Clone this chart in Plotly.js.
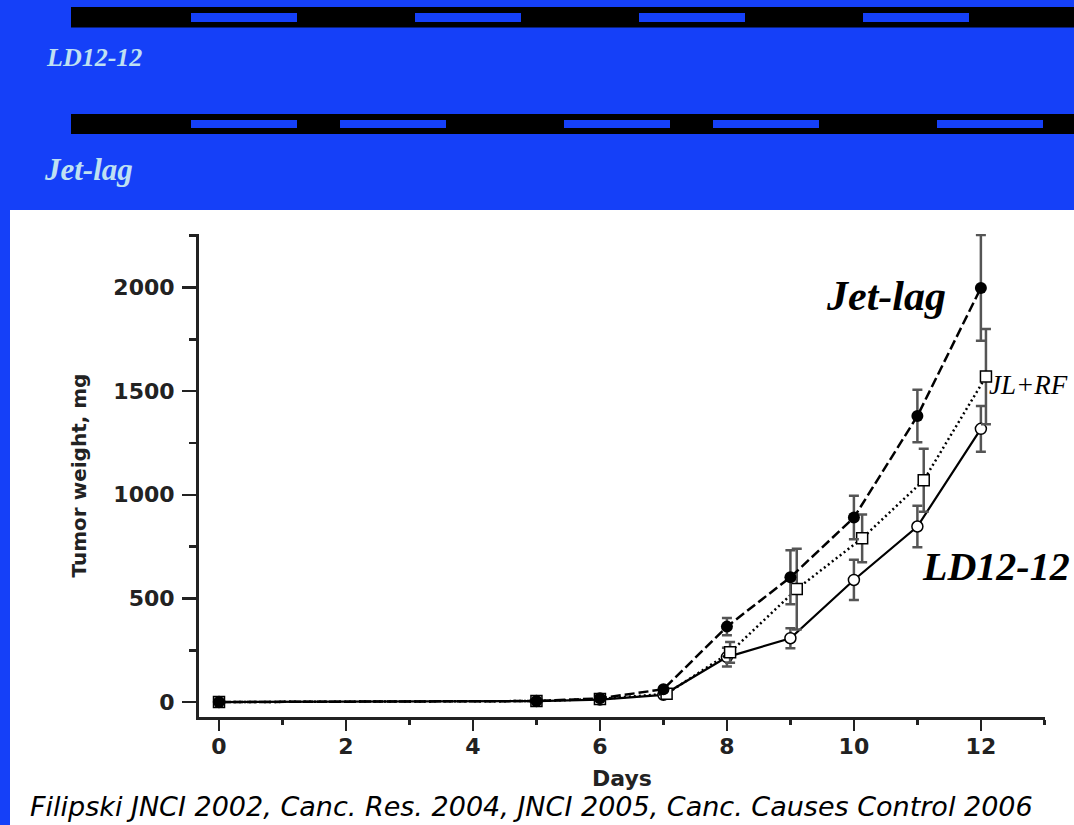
<!DOCTYPE html>
<html>
<head>
<meta charset="utf-8">
<script src="https://cdn.plot.ly/plotly-3.0.1.min.js"></script>
<style>
  html, body { margin: 0; padding: 0; background: #1540f8; }
  #chart { width: 1074px; height: 825px; }
</style>
</head>
<body>
<div id="chart"></div>
<script>
// ---- data ----
const days      = [0, 5, 6, 7, 8, 9, 10, 11, 12];
const jetLag    = [0, 5, 18, 62, 364, 602, 890, 1380, 1998];
const jetLagErr = [0, 0, 0, 0, 42, 130, 105, 127, 255];

const jlrfDays  = [0, 5, 6, 7.05, 8.05, 9.1, 10.13, 11.1, 12.08];
const jlrf      = [0, 5, 15, 40, 240, 545, 790, 1070, 1570];
const jlrfErr   = [0, 0, 0, 0, 50, 195, 115, 152, 230];

const ld        = [0, 5, 12, 35, 217, 308, 589, 847, 1318];
const ldErr     = [0, 0, 0, 0, 45, 48, 97, 100, 110];

const xTicks = [0, 2, 4, 6, 8, 10, 12];
const yTicks = [0, 500, 1000, 1500, 2000];

const headerLabels = ["LD12-12", "Jet-lag"];
const curveLabels  = ["Jet-lag", "JL+RF", "LD12-12"];
const xTitle = "Days";
const yTitle = "Tumor weight, mg";
const citation = "Filipski JNCI 2002, Canc. Res. 2004, JNCI 2005, Canc. Causes Control 2006";

// ---- page geometry helpers (pixel -> paper) ----
const W = 1074, H = 825;
const M = {l: 199, r: 29, t: 234, b: 108};
const PW = W - M.l - M.r, PH = H - M.t - M.b;
const px = v => (v - M.l) / PW;
const py = v => (H - M.b - v) / PH;

const BLUE = '#1540f8';
const LABEL = '#bfe0f2';

function rect(x0, y0, x1, y1, color) {
  return {type: 'rect', xref: 'paper', yref: 'paper', layer: 'below',
          x0: px(x0), x1: px(x1), y0: py(y1), y1: py(y0),
          fillcolor: color, line: {width: 0}};
}

const shapes = [];
// white panel
shapes.push(rect(10, 210, 1074, 825, '#ffffff'));
// light/dark schedule bars
shapes.push(rect(71, 7, 1074, 27.5, '#000000'));
[191, 415, 639, 863].forEach(s => shapes.push(rect(s, 13, s + 106, 22, BLUE)));
shapes.push(rect(71, 114, 1074, 134, '#000000'));
[191, 340, 564, 713, 937].forEach(s => shapes.push(rect(s, 120, s + 106, 128, BLUE)));

function ann(text, x, y, font) {
  return {text: text, xref: 'paper', yref: 'paper', x: px(x), y: py(y),
          xanchor: 'left', yanchor: 'middle', showarrow: false, font: font};
}
const serifBI = (size, color) => ({family: 'Liberation Serif, Times New Roman, serif', size: size, color: color, weight: 'bold', style: 'italic'});

const annotations = [
  ann(headerLabels[0], 44, 58, serifBI(26, LABEL)),
  ann(headerLabels[1], 42, 169, serifBI(31, LABEL)),
  ann(curveLabels[0], 824, 296, serifBI(42, '#000')),
  ann(curveLabels[1], 987, 385, {family: 'Liberation Serif, serif', size: 27, color: '#000', style: 'italic'}),
  ann(curveLabels[2], 920, 566, serifBI(40, '#000')),
  ann(citation, 28, 806, {family: 'DejaVu Sans, sans-serif', size: 27, color: '#000', style: 'italic'})
];

const errStyle = arr => ({type: 'data', array: arr, visible: true, color: '#555', thickness: 2.5, width: 5});

const traces = [
  {x: days, y: ld, name: 'LD12-12', type: 'scatter', mode: 'lines+markers',
   line: {color: '#000', width: 2.2, dash: 'solid'},
   marker: {symbol: 'circle', size: 11, color: '#fff', line: {color: '#000', width: 1.5}},
   error_y: errStyle(ldErr)},
  {x: jlrfDays, y: jlrf, name: 'JL+RF', type: 'scatter', mode: 'lines+markers',
   line: {color: '#000', width: 2.5, dash: '2px,3px'},
   marker: {symbol: 'square', size: 11, color: '#fff', line: {color: '#000', width: 1.5}},
   error_y: errStyle(jlrfErr)},
  {x: days, y: jetLag, name: 'Jet-lag', type: 'scatter', mode: 'lines+markers',
   line: {color: '#000', width: 2.5, dash: '10px,4px'},
   marker: {symbol: 'circle', size: 12, color: '#000'},
   error_y: errStyle(jetLagErr)}
];

const tickFont = {family: 'DejaVu Sans, sans-serif', size: 22, color: '#222', weight: 'bold'};

const layout = {
  width: W, height: H,
  margin: {l: M.l, r: M.r, t: M.t, b: M.b, autoexpand: false},
  paper_bgcolor: BLUE,
  plot_bgcolor: '#ffffff',
  showlegend: false,
  xaxis: {
    range: [-0.315, 13.01], tickvals: xTicks, ticktext: xTicks.map(String),
    showgrid: false, zeroline: false, showline: true, linecolor: '#222', linewidth: 3,
    ticks: 'outside', ticklen: 11, tickwidth: 2.5, tickcolor: '#222',
    tickfont: tickFont, ticklabelstandoff: -3,
    minor: {dtick: 1, tick0: 0, ticks: 'outside', ticklen: 5, tickwidth: 2.5, tickcolor: '#222', showgrid: false},
    title: {text: xTitle, font: tickFont, standoff: 13}
  },
  yaxis: {
    range: [-72, 2258], tickvals: yTicks, ticktext: yTicks.map(String),
    showgrid: false, zeroline: false, showline: true, linecolor: '#222', linewidth: 3,
    ticks: 'outside', ticklen: 14, tickwidth: 2.5, tickcolor: '#222',
    tickfont: tickFont, ticklabelstandoff: 3,
    minor: {dtick: 250, tick0: 0, ticks: 'outside', ticklen: 7, tickwidth: 2.5, tickcolor: '#222', showgrid: false},
    title: {text: yTitle, font: {family: 'DejaVu Sans, sans-serif', size: 20, color: '#222', weight: 'bold'}, standoff: 22}
  },
  shapes: shapes,
  annotations: annotations
};

Plotly.newPlot('chart', traces, layout, {staticPlot: true, displayModeBar: false});
</script>
</body>
</html>
